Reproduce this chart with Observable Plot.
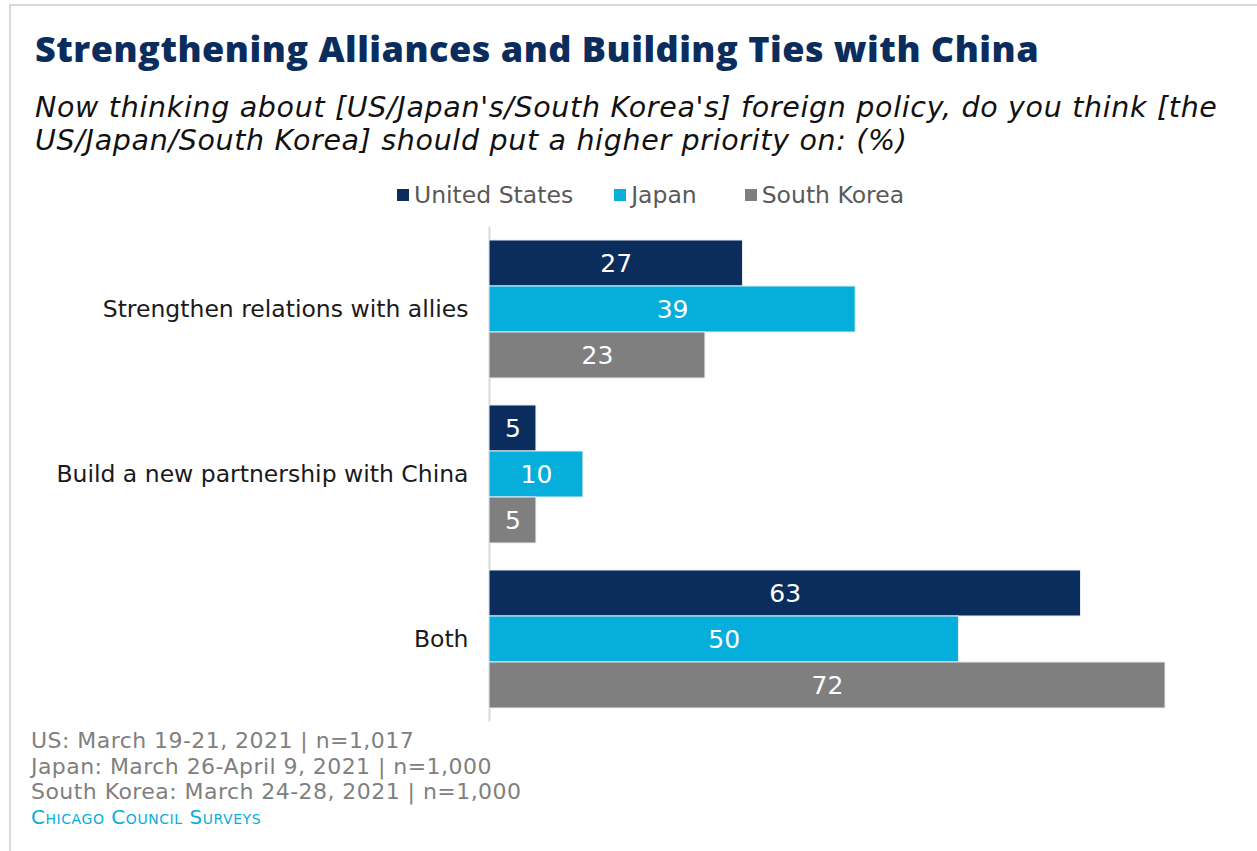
<!DOCTYPE html>
<html>
<head>
<meta charset="utf-8">
<script src="https://cdn.jsdelivr.net/npm/d3@7"></script>
<script src="https://cdn.jsdelivr.net/npm/@observablehq/plot@0.6"></script>
<style>
  html, body { margin: 0; padding: 0; background: #fff; }
  #wrap { position: relative; width: 1257px; height: 851px; overflow: hidden; font-family: "DejaVu Sans", sans-serif; }
  #border { position: absolute; left: 9px; top: 4px; right: -5px; bottom: -5px; border-left: 2px solid #d9d9d9; border-top: 2px solid #d9d9d9; }
  #title { position: absolute; left: 35px; top: 26px; font-family: "Open Sans", sans-serif; font-size: 36px; letter-spacing: 0.5px; font-weight: 800; color: #0a2d5e; white-space: nowrap; line-height: 46px; }
  #subtitle { position: absolute; left: 35px; top: 91px; font-size: 28.5px; letter-spacing: 0.67px; font-style: italic; font-weight: 300; color: #111; line-height: 33px; white-space: nowrap; }
  #legend { position: absolute; left: 397px; top: 180px; font-size: 23.5px; color: #595959; white-space: nowrap; display: flex; line-height: 30px; }
  #legend .item { display: flex; align-items: center; }
  #legend .sw { width: 12px; height: 12px; margin-right: 5px; display: inline-block; }
  #chart { position: absolute; left: 0; top: 219px; }
  #footer { position: absolute; left: 31px; top: 728px; font-size: 22px; letter-spacing: 0.45px; color: #808080; line-height: 25.5px; white-space: nowrap; }
  #source { position: absolute; left: 31px; top: 805px; font-size: 20px; letter-spacing: 0.55px; color: #06aedb; font-variant: small-caps; white-space: nowrap; line-height: 24px; }
</style>
</head>
<body>
<div id="wrap">
  <div id="border"></div>
  <div id="title">Strengthening Alliances and Building Ties with China</div>
  <div id="subtitle">Now thinking about [US/Japan's/South Korea's] foreign policy, do you think [the<br>US/Japan/South Korea] should put a higher priority on: (%)</div>
  <div id="legend"></div>
  <div id="chart"></div>
  <div id="footer"></div>
  <div id="source">Chicago Council Surveys</div>
</div>
<script>
const categories = ["Strengthen relations with allies", "Build a new partnership with China", "Both"];
const countries = ["United States", "Japan", "South Korea"];
const colors = ["#0a2d5e", "#06aedb", "#7f7f7f"];
const usValues = [27, 5, 63];
const japanValues = [39, 10, 50];
const southKoreaValues = [23, 5, 72];
const footerLines = [
  "US: March 19-21, 2021 | n=1,017",
  "Japan: March 26-April 9, 2021 | n=1,000",
  "South Korea: March 24-28, 2021 | n=1,000"
];

const seriesValues = [usValues, japanValues, southKoreaValues];
const rows = [];
categories.forEach((cat, i) => {
  countries.forEach((c, j) => {
    rows.push({category: cat, country: c, value: seriesValues[j][i]});
  });
});

// legend
const legend = document.getElementById("legend");
const legendGaps = [41, 48, 0];
countries.forEach((c, j) => {
  const it = document.createElement("div");
  it.className = "item";
  it.style.marginRight = legendGaps[j] + "px";
  const sw = document.createElement("span");
  sw.className = "sw";
  sw.style.background = colors[j];
  it.appendChild(sw);
  it.appendChild(document.createTextNode(c));
  legend.appendChild(it);
});

const footer = document.getElementById("footer");
footer.innerHTML = footerLines.map(s => `<div>${s}</div>`).join("");

const chart = Plot.plot({
  width: 1257,
  height: 510,
  marginLeft: 489,
  marginRight: 92,
  marginTop: 10,
  marginBottom: 10,
  style: {fontFamily: "'DejaVu Sans', sans-serif", fontSize: "23.5px", color: "#1a1a1a", background: "transparent"},
  x: {domain: [0, 72], axis: null},
  y: {domain: countries, axis: null, padding: 0},
  fy: {domain: categories, paddingInner: 25 / 165, paddingOuter: 10 / 165, axis: "left", label: null, tickSize: 0, tickPadding: 21, fontSize: 23.5},
  color: {domain: countries, range: colors},
  facet: {data: rows, y: "category"},
  marks: [
    Plot.ruleX([0], {stroke: "#d9d9d9", strokeWidth: 2, insetTop: -12.5, insetBottom: -12.5}),
    Plot.barX(rows, {x: "value", y: "country", fill: "country", stroke: "#e8ecf2", strokeWidth: 1}),
    Plot.text(rows, {x: d => d.value / 2, y: "country", text: d => String(d.value), fill: "white", fontSize: 25})
  ]
});
document.getElementById("chart").appendChild(chart);
</script>
</body>
</html>
